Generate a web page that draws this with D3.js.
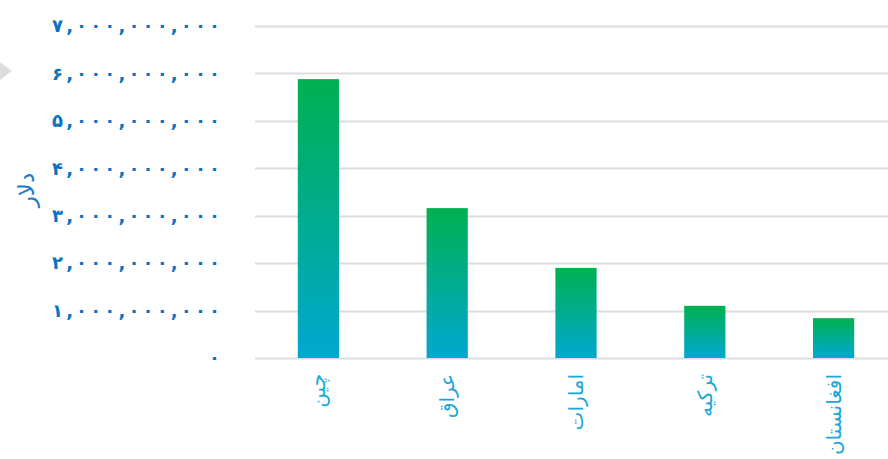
<!DOCTYPE html>
<html><head><meta charset="utf-8">
<script src="https://cdn.jsdelivr.net/npm/d3@7/dist/d3.min.js"></script>
<style>html,body{margin:0;padding:0;background:#fff;overflow:hidden}</style>
</head><body><div id="chart"></div>
<script>
const categories = ["چین", "عراق", "امارات", "ترکیه", "افغانستان"];
const values = [5880000000, 3160000000, 1900000000, 1100000000, 840000000];
const tickValues = [0, 1e9, 2e9, 3e9, 4e9, 5e9, 6e9, 7e9];
const yTitle = "دلار";

const W = 888, H = 459;
const svg = d3.select("#chart").append("svg").attr("width", W).attr("height", H);

const x = d3.scaleBand().domain(categories).range([254, 898]).paddingInner(0.68).paddingOuter(0.34);
const y = d3.scaleLinear().domain([0, 7e9]).range([358, 26]);

const fa = d3.format(",");
const toFa = s => s.replace(/\d/g, d => "۰۱۲۳۴۵۶۷۸۹"[+d]);

const defs = svg.append("defs");
const grad = defs.append("linearGradient").attr("id", "barGrad")
  .attr("x1", 0).attr("y1", 0).attr("x2", 0).attr("y2", 1);
grad.append("stop").attr("offset", "0%").attr("stop-color", "#00b050");
grad.append("stop").attr("offset", "100%").attr("stop-color", "#00a8d0");

const yAxis = d3.axisLeft(y).tickValues(tickValues).tickSize(0).tickFormat(d => toFa(fa(d)));
const gy = svg.append("g").attr("transform", "translate(220,0)").call(yAxis);
gy.select(".domain").remove();
gy.selectAll("text").attr("x", 0).attr("dy", "0.32em")
  .attr("fill", "#0b72c4").style("font-family", "'DejaVu Sans', sans-serif")
  .style("font-size", "18px").style("font-weight", "bold")
  .each(function(d) {
    if (d !== 0) d3.select(this).attr("textLength", 168).attr("lengthAdjust", "spacing");
  });

svg.append("g").selectAll("line").data(tickValues).join("line")
  .attr("x1", 255).attr("x2", W).attr("y1", d => Math.round(y(d)) + 0.5).attr("y2", d => Math.round(y(d)) + 0.5)
  .attr("stroke", "#dcdcdc").attr("stroke-width", 2);

svg.append("g").selectAll("rect").data(values).join("rect")
  .attr("x", (d, i) => x(categories[i])).attr("width", x.bandwidth())
  .attr("y", d => y(d)).attr("height", d => y(0) - y(d))
  .attr("fill", "url(#barGrad)");

const xAxis = d3.axisBottom(x).tickSize(0);
const gx = svg.append("g").attr("transform", "translate(0,358)").call(xAxis);
gx.select(".domain").remove();
gx.selectAll("text").attr("transform", "rotate(-90)").attr("x", -16).attr("y", 0).attr("dy", "0.35em")
  .style("text-anchor", "end").attr("fill", "#1aa8d8")
  .style("font-family", "'DejaVu Sans', sans-serif").style("font-size", "20px");

svg.append("text").attr("transform", "translate(26,190) rotate(-90)")
  .attr("text-anchor", "middle").attr("dy", "0.35em").attr("fill", "#1a7cc8")
  .style("font-family", "'DejaVu Sans', sans-serif").style("font-size", "23px").text(yTitle);

svg.append("path").attr("d", "M0,62 L12,71 L0,80 Z").attr("fill", "#dddddd");
</script></body></html>
